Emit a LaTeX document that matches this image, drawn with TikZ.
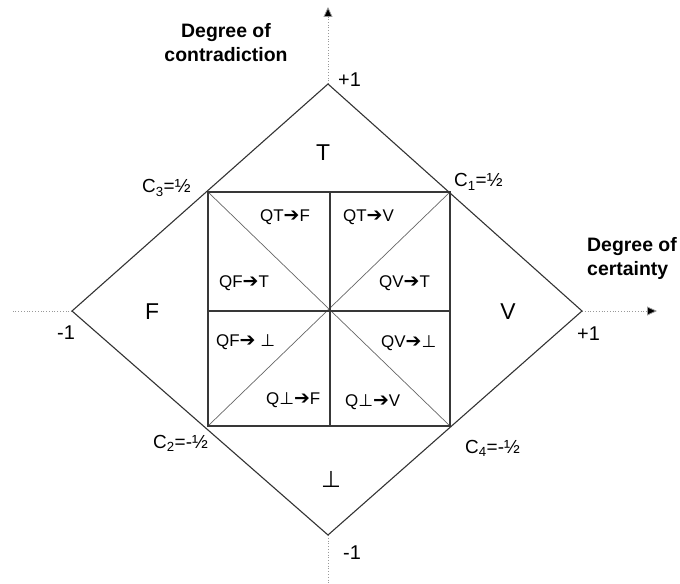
\documentclass[tikz,border=0pt]{standalone}
\usepackage{fontspec}
\setmainfont{Liberation Sans}
\newfontfamily\djv{DejaVu Sans}
\usetikzlibrary{arrows.meta}
\newcommand{\myarr}{{\djv\bfseries\fontsize{19}{18}\selectfont ➔}}
\newcommand{\myperp}{{\djv ⊥}}
\begin{document}
\begin{tikzpicture}[x=1bp,y=-1bp,
  diamondline/.style={draw=black!80, line width=1.1pt, line join=miter},
  sqline/.style={draw=black!78, line width=1.2pt},
  diagline/.style={draw=black!60, line width=0.7pt},
  axisline/.style={draw=black!40, dotted, line width=0.8pt},
  axistip/.style={-{Triangle[length=10bp,width=9bp,fill=black]}},
  numlbl/.style={inner sep=0, font=\fontsize{20}{24}\selectfont},
  clbl/.style={inner sep=0, font=\fontsize{19}{22}\selectfont},
  biglbl/.style={inner sep=0, font=\fontsize{23}{26}\selectfont},
  inlbl/.style={inner sep=0, anchor=base west, font=\fontsize{17}{18}\selectfont},
  axlbl/.style={inner sep=0, font=\bfseries\fontsize{19.5}{24}\selectfont}]
\useasboundingbox (0,0) rectangle (680,584);
% diamond vertices
\coordinate (dt) at (328,84);
\coordinate (dr) at (582,311);
\coordinate (db) at (328,535);
\coordinate (dl) at (72,311);
% axis ends
\coordinate (atop) at (328,7);
\coordinate (abot) at (328,584);
\coordinate (aleft) at (12,311);
\coordinate (aright) at (657,311);
% square
\coordinate (s1) at (208,192);
\coordinate (s2) at (450,192);
\coordinate (s3) at (450,426);
\coordinate (s4) at (208,426);
\coordinate (c) at (330,311);
\coordinate (mt) at (330,192);
\coordinate (mb) at (330,426);
\coordinate (ml) at (208,311);
\coordinate (mr) at (450,311);
% axes
\draw[axisline, axistip] (dt) -- (atop);
\draw[axisline, axistip] (dr) -- (aright);
\draw[axisline] (db) -- (abot);
\draw[axisline] (dl) -- (aleft);
% diagonals
\draw[diagline] (s1) -- (s3);
\draw[diagline] (s2) -- (s4);
% square and mid lines
\draw[sqline] (mt) -- (mb);
\draw[sqline] (ml) -- (mr);
\draw[sqline] (s1) -- (s2) -- (s3) -- (s4) -- cycle;
% diamond
\draw[diamondline] (dt) -- (dr) -- (db) -- (dl) -- cycle;
% axis labels
\node[axlbl, align=center] (ylab) at (226,43) {Degree of\\contradiction};
\node[axlbl, align=left, anchor=north west] (xlab) at (587,237) {Degree of\\certainty};
% numbers
\node[numlbl, anchor=base west] (ptop) at (338,87) {+1};
\node[numlbl, anchor=base west] (pright) at (577,340) {+1};
\node[numlbl, anchor=base west] (mleft) at (57,339) {-1};
\node[numlbl, anchor=base west] (mbot) at (343,559) {-1};
% C labels
\node[clbl, anchor=base west] (c1) at (454,187) {C\textsubscript{1}=½};
\node[clbl, anchor=base west] (c3) at (142,193) {C\textsubscript{3}=½};
\node[clbl, anchor=base west] (c2) at (153,448) {C\textsubscript{2}=-½};
\node[clbl, anchor=base west] (c4) at (465,453) {C\textsubscript{4}=-½};
% region letters
\node[biglbl, anchor=base] (rT) at (323,161) {T};
\node[biglbl, anchor=base] (rF) at (152,319) {F};
\node[biglbl, anchor=base] (rV) at (508,319) {V};
\node[biglbl, anchor=base] (rB) at (331,487) {\myperp};
% inner labels
\node[inlbl] (q1) at (260,221) {QT\myarr F};
\node[inlbl] (q2) at (343,221) {QT\myarr V};
\node[inlbl] (q3) at (219,287) {QF\myarr T};
\node[inlbl] (q4) at (379,287) {QV\myarr T};
\node[inlbl] (q5) at (216,346) {QF\myarr\ \myperp};
\node[inlbl] (q6) at (381,347) {QV\myarr\myperp};
\node[inlbl] (q7) at (266,404) {Q\myperp\myarr F};
\node[inlbl] (q8) at (345,406) {Q\myperp\myarr V};
\end{tikzpicture}
\end{document}
